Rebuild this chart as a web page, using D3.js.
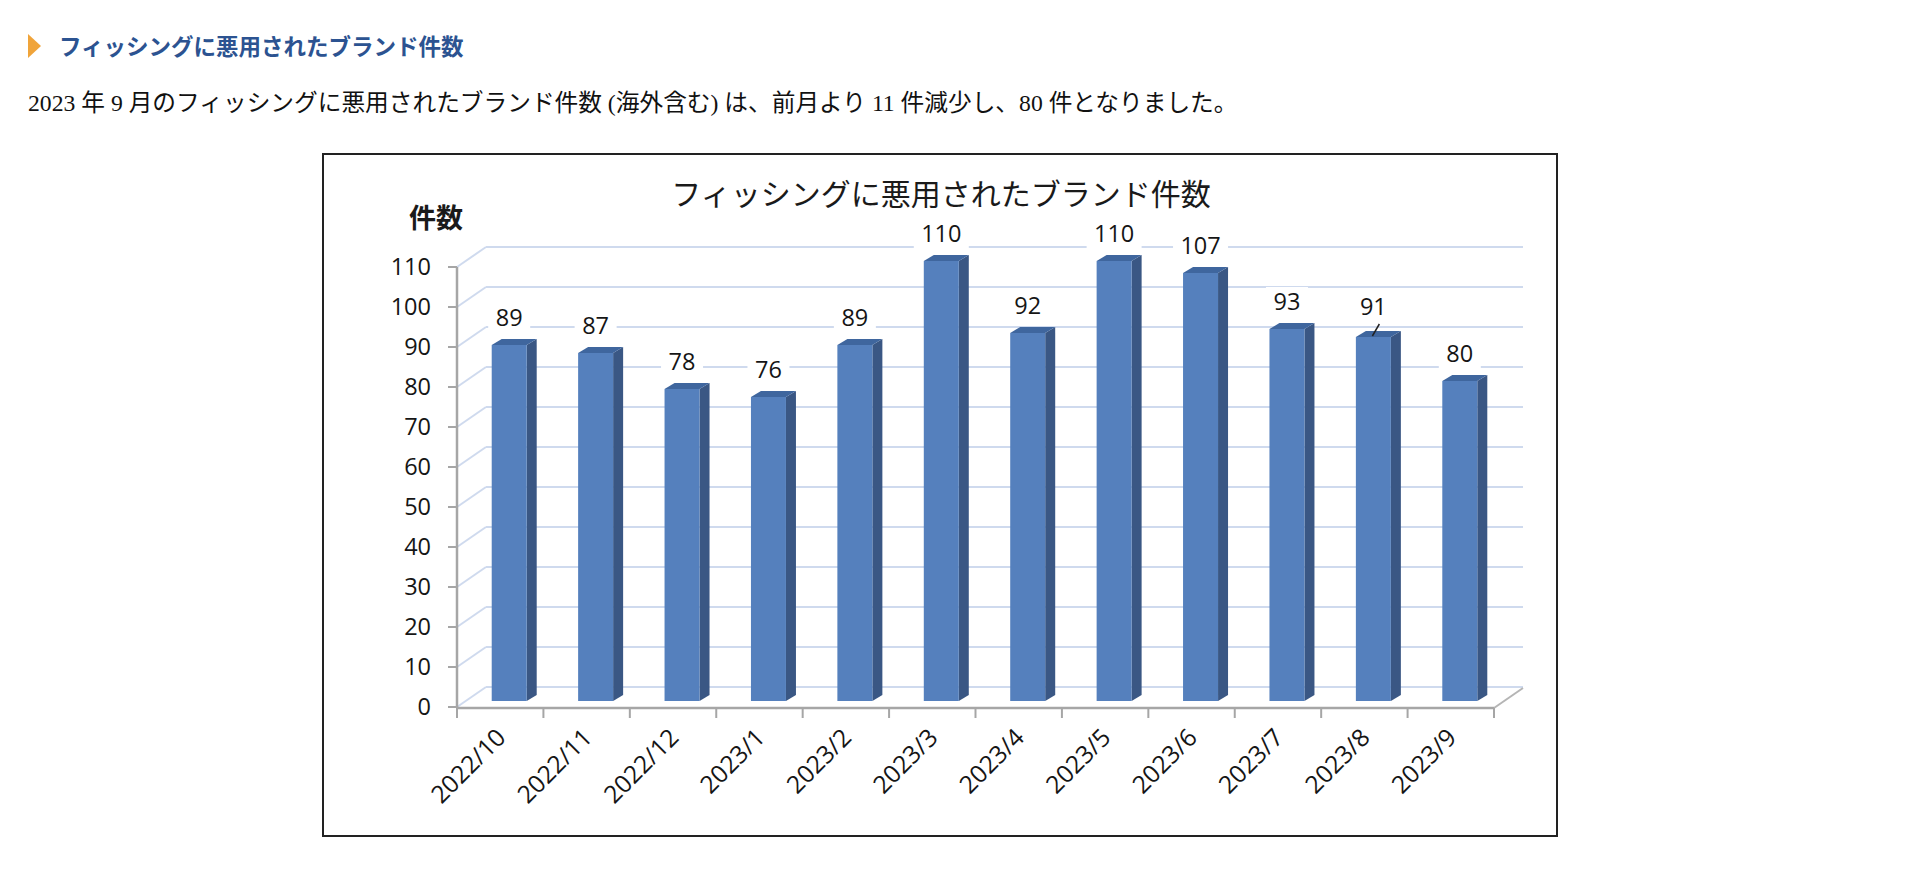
<!DOCTYPE html>
<html lang="ja">
<head>
<meta charset="utf-8">
<script src="https://cdn.jsdelivr.net/npm/d3@7"></script>
<style>
  html, body { margin: 0; padding: 0; background: #ffffff; }
  svg { display: block; }
</style>
</head>
<body>
<svg id="chart" width="1920" height="869"></svg>
<script>
// ---- data ----
const categories = ["2022/10","2022/11","2022/12","2023/1","2023/2","2023/3","2023/4","2023/5","2023/6","2023/7","2023/8","2023/9"];
const values = [89, 87, 78, 76, 89, 110, 92, 110, 107, 93, 91, 80];
const yTicks = [0,10,20,30,40,50,60,70,80,90,100,110];
const leaderCategories = ["2023/8"];
const headingText = "フィッシングに悪用されたブランド件数";
const paragraphText = "2023 年 9 月のフィッシングに悪用されたブランド件数 (海外含む) は、前月より 11 件減少し、80 件となりました。";
const chartTitle = "フィッシングに悪用されたブランド件数";
const yAxisTitle = "件数";

// ---- layout ----
const svg = d3.select("#chart");
const JP = "'Noto Sans CJK JP', 'Noto Sans', sans-serif";
const SERIF = "'Liberation Serif', 'Noto Sans CJK JP', serif";
const NUM = "'Open Sans', 'Noto Sans', sans-serif";

const y = d3.scaleLinear().domain([0, 110]).range([707, 267]);
const x = d3.scaleBand().domain(categories).range([457, 1494]).padding(0);
const step = x.step();
const wall = { dx: 29, dy: -20 };       // depth of the 3D floor / walls
const barFront = { dx: 9, dy: -6 };     // front face offset into depth
const barDepth = { dx: 10, dy: -6 };    // bar thickness
const barW = step * 0.405;

// heading
svg.append("polygon")
  .attr("points", "28,34 41,46 28,58")
  .attr("fill", "#f0a43a");
svg.append("text")
  .attr("x", 59).attr("y", 54.5)
  .attr("font-family", SERIF)
  .attr("font-weight", "bold")
  .attr("font-size", 22.5)
  .attr("fill", "#2c5391")
  .text(headingText);

svg.append("text")
  .attr("x", 28).attr("y", 111)
  .attr("font-family", SERIF)
  .attr("font-size", 23.7)
  .attr("fill", "#111")
  .text(paragraphText);

// chart frame
svg.append("rect")
  .attr("x", 323).attr("y", 154)
  .attr("width", 1234).attr("height", 682)
  .attr("fill", "#fff")
  .attr("stroke", "#222").attr("stroke-width", 2);

const g = svg.append("g");

// back wall gridlines
const x0 = x.range()[0], x1 = x.range()[1];
g.selectAll("line.back").data(yTicks).join("line")
  .attr("class", "back")
  .attr("x1", x0 + wall.dx).attr("x2", x1 + wall.dx)
  .attr("y1", d => y(d) + wall.dy).attr("y2", d => y(d) + wall.dy)
  .attr("stroke", "#cfdaee").attr("stroke-width", 2);
// left wall diagonals
g.selectAll("line.side").data(yTicks).join("line")
  .attr("class", "side")
  .attr("x1", x0).attr("x2", x0 + wall.dx)
  .attr("y1", d => y(d)).attr("y2", d => y(d) + wall.dy)
  .attr("stroke", "#cfdaee").attr("stroke-width", 2);

// floor right edge
g.append("line")
  .attr("x1", x1).attr("y1", y(0) + 1)
  .attr("x2", x1 + wall.dx).attr("y2", y(0) + 1 + wall.dy)
  .attr("stroke", "#b5b5b5").attr("stroke-width", 2);

// axes
g.append("line")
  .attr("x1", x0).attr("x2", x1)
  .attr("y1", y(0) + 1).attr("y2", y(0) + 1)
  .attr("stroke", "#a6a6a6").attr("stroke-width", 2.5);
g.append("line")
  .attr("x1", x0).attr("x2", x0)
  .attr("y1", y(110)).attr("y2", y(0) + 1)
  .attr("stroke", "#a6a6a6").attr("stroke-width", 2.5);
// y ticks
g.selectAll("line.ytick").data(yTicks).join("line")
  .attr("class", "ytick")
  .attr("x1", x0 - 9).attr("x2", x0)
  .attr("y1", d => y(d)).attr("y2", d => y(d))
  .attr("stroke", "#a6a6a6").attr("stroke-width", 2);
// x ticks (band boundaries)
const xEdges = categories.map(c => x(c)).concat([x1]);
g.selectAll("line.xtick").data(xEdges).join("line")
  .attr("class", "xtick")
  .attr("x1", d => d).attr("x2", d => d)
  .attr("y1", y(0) + 1).attr("y2", y(0) + 11)
  .attr("stroke", "#a6a6a6").attr("stroke-width", 2);

// y labels
g.selectAll("text.ylab").data(yTicks).join("text")
  .attr("class", "ylab")
  .attr("x", x0 - 26).attr("y", d => y(d))
  .attr("dy", "0.36em")
  .attr("text-anchor", "end")
  .attr("font-family", NUM).attr("font-size", 23.5)
  .attr("fill", "#151515")
  .text(d => d);

// bars
const data = categories.map((c, i) => ({ c, v: values[i] }));
function barGeom(d) {
  const cx = x(d.c) + step / 2 + barFront.dx;
  const l = cx - barW / 2, r = cx + barW / 2;
  const top = y(d.v) + barFront.dy, bot = y(0) + barFront.dy;
  return { l, r, top, bot, cx };
}
const bars = g.selectAll("g.bar").data(data).join("g").attr("class", "bar");
bars.append("polygon") // side
  .attr("points", d => {
    const b = barGeom(d);
    return [[b.r, b.top], [b.r + barDepth.dx, b.top + barDepth.dy],
            [b.r + barDepth.dx, b.bot + barDepth.dy], [b.r, b.bot]].join(" ");
  })
  .attr("fill", "#3a5784");
bars.append("polygon") // top
  .attr("points", d => {
    const b = barGeom(d);
    return [[b.l, b.top], [b.r, b.top], [b.r + barDepth.dx, b.top + barDepth.dy],
            [b.l + barDepth.dx, b.top + barDepth.dy]].join(" ");
  })
  .attr("fill", "#3f669e");
bars.append("rect") // front
  .attr("x", d => barGeom(d).l)
  .attr("y", d => barGeom(d).top)
  .attr("width", barW)
  .attr("height", d => barGeom(d).bot - barGeom(d).top)
  .attr("fill", "#5580bd");

// value labels with white boxes
const labels = g.selectAll("g.vlab").data(data).join("g").attr("class", "vlab")
  .attr("transform", d => {
    const b = barGeom(d);
    const lift = leaderCategories.includes(d.c) ? 30 : 27;
    return `translate(${b.cx},${b.top - lift})`;
  });
labels.append("rect")
  .attr("x", d => -(String(d.v).length * 13 + 16) / 2)
  .attr("y", -15)
  .attr("width", d => String(d.v).length * 13 + 16)
  .attr("height", 30)
  .attr("fill", "#fff");
labels.append("text")
  .attr("text-anchor", "middle")
  .attr("dy", "0.36em")
  .attr("font-family", NUM).attr("font-size", 23.5)
  .attr("fill", "#151515")
  .text(d => d.v);
// leader line
g.selectAll("line.leader").data(data.filter(d => leaderCategories.includes(d.c))).join("line")
  .attr("class", "leader")
  .attr("x1", d => barGeom(d).cx + 6).attr("y1", d => barGeom(d).top - 13)
  .attr("x2", d => barGeom(d).cx - 1).attr("y2", d => barGeom(d).top - 1)
  .attr("stroke", "#222").attr("stroke-width", 1.5);

// x labels
g.selectAll("text.xlab").data(categories).join("text")
  .attr("class", "xlab")
  .attr("text-anchor", "end")
  .attr("font-family", NUM).attr("font-size", 24.5)
  .attr("fill", "#151515")
  .attr("transform", c => `translate(${x(c) + step / 2 + 7},${y(0) + 32}) rotate(-45)`)
  .text(c => c);

// titles
svg.append("text")
  .attr("x", 941).attr("y", 194)
  .attr("dy", "0.36em")
  .attr("text-anchor", "middle")
  .attr("font-family", JP).attr("font-size", 30)
  .attr("fill", "#1a1a1a")
  .text(chartTitle);
svg.append("text")
  .attr("x", 409).attr("y", 218)
  .attr("dy", "0.36em")
  .attr("font-family", JP).attr("font-size", 27).attr("font-weight", "bold")
  .attr("fill", "#1a1a1a")
  .text(yAxisTitle);
</script>
</body>
</html>
